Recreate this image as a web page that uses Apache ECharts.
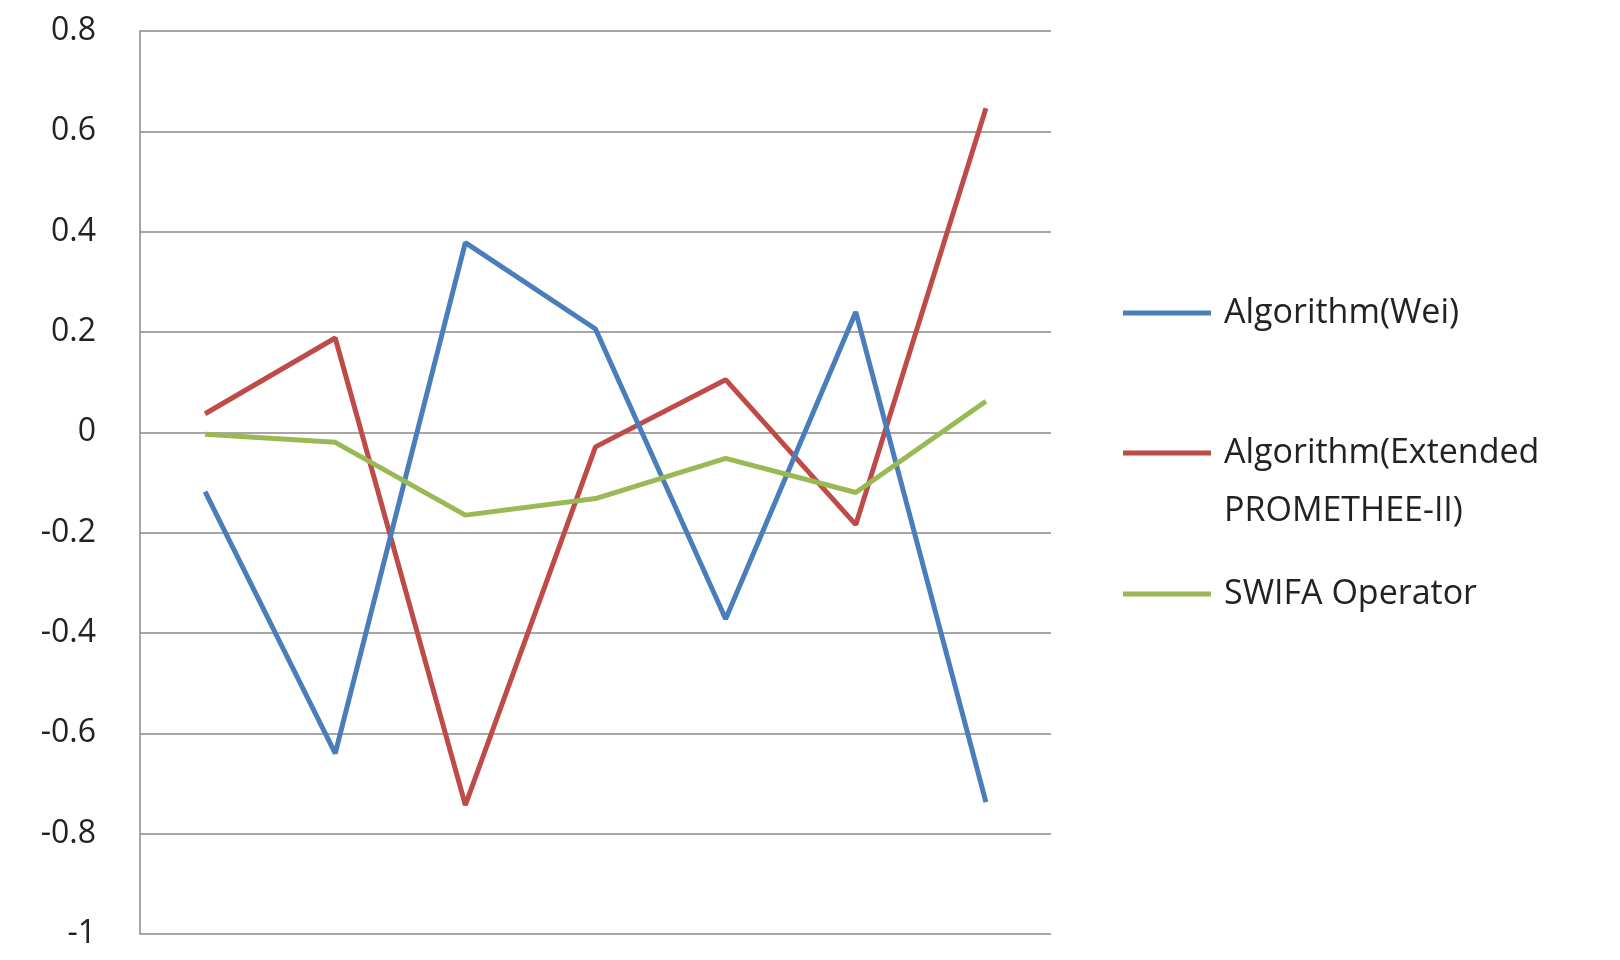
<!DOCTYPE html>
<html><head><meta charset="utf-8">
<script src="https://cdn.jsdelivr.net/npm/echarts@6/dist/echarts.min.js"></script>
<style>html,body{margin:0;padding:0;background:#fff}#c{width:1620px;height:960px}</style>
</head><body><div id="c"></div>
<script>
const categories = ['D1','D2','D3','D4','D5','D6','D7'];
const subs = ['1','2','3','4','5','6','7'];
const wei = [-0.118, -0.64, 0.378, 0.206, -0.372, 0.24, -0.737];
const promethee = [0.037, 0.188, -0.743, -0.029, 0.105, -0.184, 0.646];
const swifa = [-0.004, -0.02, -0.165, -0.132, -0.052, -0.12, 0.062];
const yTicks = [-1, -0.8, -0.6, -0.4, -0.2, 0, 0.2, 0.4, 0.6, 0.8];
const labelPos = [[-36, -12], [-12, 62], [-18, -38], [48, 4], [4, 72], [4, -44], [4, 32]];

const chart = echarts.init(document.getElementById('c'));
const rich = {
  d: {fontFamily: 'DejaVu Serif', fontStyle: 'italic', fontSize: 37, color: '#222'},
  s: {fontFamily: 'DejaVu Serif', fontSize: 25, color: '#222', padding: [22, 0, 0, 0]}
};
const weiData = wei.map((v, i) => ({
  value: v,
  label: {show: true, position: 'inside', offset: labelPos[i],
    formatter: '{d|D}{s|' + subs[i] + '}', rich}
}));
const legendItems = [
  {y: 313, color: '#4a7ebb', lines: ['Algorithm(Wei)']},
  {y: 453, color: '#be4b48', lines: ['Algorithm(Extended', 'PROMETHEE-II)']},
  {y: 594, color: '#98b954', lines: ['SWIFA Operator']}
];
const graphic = [];
legendItems.forEach(it => {
  graphic.push({type: 'rect', shape: {x: 1123, y: it.y - 2.5, width: 88, height: 5}, style: {fill: it.color}});
  it.lines.forEach((t, k) => graphic.push({type: 'text', x: 1224, y: it.y + k * 58,
    style: {text: t, fontSize: 34, fontFamily: 'Open Sans', fill: '#222', verticalAlign: 'middle'}}));
});
chart.setOption({
  animation: false,
  grid: {left: 140, right: 569, top: 31, bottom: 26},
  xAxis: {type: 'category', data: categories, boundaryGap: true,
    axisLine: {show: false}, axisTick: {show: false}, axisLabel: {show: false}},
  yAxis: {type: 'value', min: -1, max: 0.8, interval: 0.2,
    axisLine: {show: true, lineStyle: {color: '#888', width: 1.5}},
    axisTick: {show: false},
    splitLine: {lineStyle: {color: '#888', width: 1.5}},
    axisLabel: {fontSize: 32, color: '#222', fontFamily: 'Open Sans', margin: 44,
      formatter: v => (Math.round(v * 10) / 10).toString()}},
  graphic,
  series: [
    {type: 'line', name: 'Algorithm(Wei)', data: weiData, symbol: 'circle', symbolSize: 1, showSymbol: true,
      itemStyle: {color: '#4a7ebb', opacity: 0}, lineStyle: {color: '#4a7ebb', width: 5}, z: 3},
    {type: 'line', name: 'Algorithm(Extended PROMETHEE-II)', data: promethee, symbol: 'none', lineStyle: {color: '#be4b48', width: 5}, z: 2},
    {type: 'line', name: 'SWIFA Operator', data: swifa, symbol: 'none', lineStyle: {color: '#98b954', width: 5}, z: 4}
  ]
});
</script></body></html>
